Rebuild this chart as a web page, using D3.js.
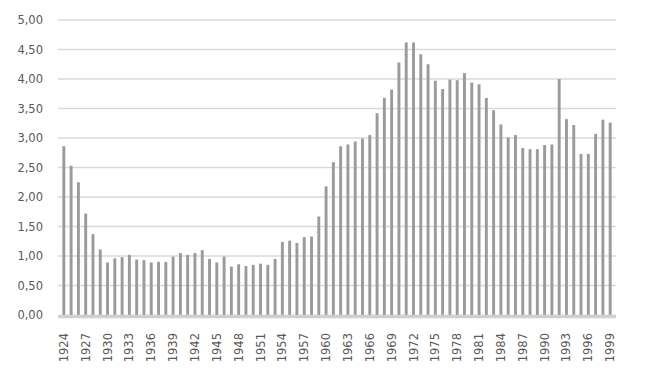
<!DOCTYPE html>
<html>
<head>
<meta charset="utf-8">
<script src="https://cdnjs.cloudflare.com/ajax/libs/d3/7.8.5/d3.min.js"></script>
<style>
  body { margin: 0; background: #ffffff; }
  svg text { font-family: "DejaVu Sans", "Open Sans", sans-serif; }
</style>
</head>
<body>
<div id="chart"></div>
<script>
// years on the x axis
var years = d3.range(1924, 2000);

// values, one per year
var values = [
  2.86, 2.53, 2.25, 1.72, 1.37, 1.11, 0.89, 0.96, 0.98, 1.02,
  0.94, 0.93, 0.89, 0.90, 0.90, 0.99, 1.05, 1.02, 1.05, 1.10,
  0.95, 0.89, 0.99, 0.82, 0.86, 0.83, 0.85, 0.87, 0.85, 0.95,
  1.24, 1.26, 1.22, 1.32, 1.33, 1.67, 2.18, 2.59, 2.86, 2.89,
  2.94, 2.99, 3.05, 3.42, 3.68, 3.82, 4.28, 4.62, 4.62, 4.42,
  4.25, 3.97, 3.83, 3.99, 3.98, 4.10, 3.94, 3.91, 3.68, 3.47,
  3.23, 3.01, 3.05, 2.83, 2.81, 2.81, 2.88, 2.89, 4.00, 3.32,
  3.22, 2.73, 2.73, 3.07, 3.31, 3.26
];

// y axis ticks
var yTicks = [0, 0.5, 1, 1.5, 2, 2.5, 3, 3.5, 4, 4.5, 5];

var width = 650, height = 390;
var margin = {top: 20, right: 34, bottom: 75, left: 58};

var svg = d3.select("#chart").append("svg")
  .attr("width", width)
  .attr("height", height);

var x = d3.scaleBand()
  .domain(years)
  .range([margin.left, width - margin.right])
  .padding(0.6);

var y = d3.scaleLinear()
  .domain([0, 5])
  .range([height - margin.bottom, margin.top]);

// horizontal gridlines
svg.append("g")
  .selectAll("line")
  .data(yTicks.slice(1))
  .enter()
  .append("line")
  .attr("x1", margin.left)
  .attr("x2", width - margin.right)
  .attr("y1", function(d) { return y(d); })
  .attr("y2", function(d) { return y(d); })
  .style("stroke", "#dadada")
  .style("stroke-width", 1.3);

// y labels, comma decimals
var fmt = function(d) { return d3.format(".2f")(d).replace(".", ","); };
svg.append("g")
  .selectAll("text")
  .data(yTicks)
  .enter()
  .append("text")
  .attr("x", 43)
  .attr("y", function(d) { return y(d); })
  .attr("dy", "0.35em")
  .attr("text-anchor", "end")
  .style("font-size", "11.5px")
  .style("fill", "#595959")
  .text(fmt);

// bars
svg.append("g")
  .selectAll("rect")
  .data(values)
  .enter()
  .append("rect")
  .attr("x", function(d, i) { return x(years[i]); })
  .attr("width", x.bandwidth())
  .attr("y", function(d) { return y(d); })
  .attr("height", function(d) { return y(0) - y(d); })
  .style("fill", "#9b9b9b");

// baseline
svg.append("line")
  .attr("x1", margin.left)
  .attr("x2", width - margin.right)
  .attr("y1", y(0) + 1.5)
  .attr("y2", y(0) + 1.5)
  .style("stroke", "#d0d0d0")
  .style("stroke-width", 3.5);

// x labels every 3 years, rotated
var xAxis = d3.axisBottom(x)
  .tickValues(years.filter(function(d) { return (d - 1924) % 3 == 0; }))
  .tickSize(0)
  .tickPadding(0);

var gx = svg.append("g")
  .attr("transform", "translate(0," + (y(0) + 18) + ")")
  .call(xAxis);
gx.select(".domain").remove();
gx.selectAll("text")
  .attr("transform", "rotate(-90)")
  .attr("x", 0)
  .attr("y", 0)
  .attr("dy", "0.35em")
  .attr("text-anchor", "end")
  .style("font-size", "11.5px")
  .style("font-family", "DejaVu Sans, sans-serif")
  .style("fill", "#595959");
</script>
</body>
</html>
